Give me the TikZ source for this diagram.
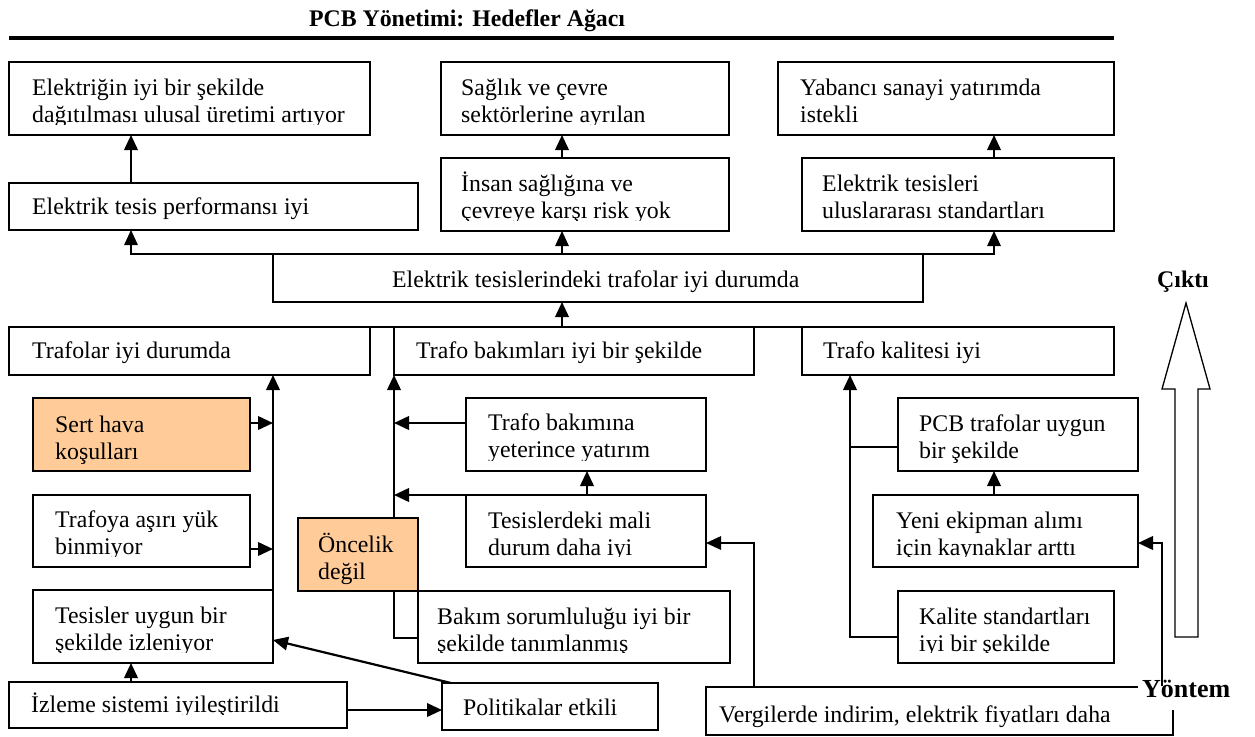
\documentclass[tikz,border=0pt]{standalone}
\usepackage{fontspec}
\setmainfont{Liberation Serif}
\usetikzlibrary{arrows.meta,calc}
\definecolor{peach}{HTML}{FFCC99}
\tikzset{
  box/.style={draw, line width=1.6pt, fill=white, inner sep=0pt, outer sep=0pt, anchor=north west},
  hl/.style={fill=peach},
  conn/.style={line width=2.2pt},
  thinc/.style={line width=1.5pt},
  tip/.style={-{Triangle[length=15pt,width=13.5pt]}},
  lab/.style={font=\fontsize{23.8}{27}\bfseries\selectfont},
}
\newcommand\twol[2]{\vtop{\baselineskip=27pt\hbox{#1}\hbox{#2}}}
% \mkbox[opts]{name}{x1}{y1}{x2}{y2}{dx,dy}{clip margin}{text}
\newcommand\mkbox[9][]{%
  \node[box,#1,minimum width={(#5-#3)*1pt},minimum height={(#6-#4)*1pt}] (#2) at (#3,#4) {};
  \begin{scope}
    \clip (#2.north west) rectangle ([yshift=#8pt]#2.south east);
    \node[anchor=base west, inner sep=0pt] (#2-t) at ([shift={(#7)}]#2.north west) {#9};
  \end{scope}
}
\begin{document}
\begin{tikzpicture}[x=1pt,y=-1pt,font=\fontsize{23.8}{27}\selectfont]
\useasboundingbox (0,0) rectangle (1255,736);
\node[lab, anchor=base] (title) at (467,26) {PCB Yönetimi: Hedefler Ağacı};
\coordinate (rl) at (9,38);
\coordinate (rr) at (1114,38);
\draw[line width=4pt] (rl) -- (rr);

% boxes
\mkbox{A}{9}{62}{370}{135}{23,33}{11}{\twol{Elektriğin iyi bir şekilde}{dağıtılması ulusal üretimi artıyor}}
\mkbox{B}{441}{62}{729}{135}{20,33}{11}{\twol{Sağlık ve çevre}{sektörlerine ayrılan}}
\mkbox{C}{778}{62}{1114}{135}{22,33}{11}{\twol{Yabancı sanayi yatırımda}{istekli}}
\mkbox{D}{9}{183}{418}{230}{23,31}{4}{Elektrik tesis performansı iyi}
\mkbox{E}{441}{158}{729}{231}{20,33}{11}{\twol{İnsan sağlığına ve}{çevreye karşı risk yok}}
\mkbox{F}{802}{158}{1114}{231}{20,33}{11}{\twol{Elektrik tesisleri}{uluslararası standartları}}
\mkbox{G}{273}{254}{923}{302}{119,33}{4}{Elektrik tesislerindeki trafolar iyi durumda}
\mkbox{H}{9}{327}{370}{375}{23,31}{4}{Trafolar iyi durumda}
\mkbox{I}{394}{327}{754}{375}{22,31}{4}{Trafo bakımları iyi bir şekilde}
\mkbox{J}{802}{327}{1114}{375}{21,31}{4}{Trafo kalitesi iyi}
\mkbox[hl]{Sert}{33}{398}{250}{471}{22,34}{5}{\twol{Sert hava}{koşulları}}
\mkbox{Trf}{33}{495}{250}{567}{22,32}{11}{\twol{Trafoya aşırı yük}{binmiyor}}
\mkbox{Tes}{33}{590}{273}{663}{22,33}{11}{\twol{Tesisler uygun bir}{şekilde izleniyor}}
\mkbox{Izl}{9}{682}{347}{728}{22,30}{14}{İzleme sistemi iyileştirildi}
\mkbox{Pol}{442}{683}{658}{730}{21,32}{4}{Politikalar etkili}
\mkbox{Yat}{466}{398}{706}{471}{22,32}{11}{\twol{Trafo bakımına}{yeterince yatırım}}
\mkbox{Tsd}{466}{495}{706}{567}{22,33}{11}{\twol{Tesislerdeki mali}{durum daha iyi}}
\mkbox{Bak}{418}{591}{730}{663}{19,33}{11}{\twol{Bakım sorumluluğu iyi bir}{şekilde tanımlanmış}}
\mkbox{PCB}{898}{398}{1138}{471}{21,33}{5}{\twol{PCB trafolar uygun}{bir şekilde}}
\mkbox{Yeni}{873}{495}{1138}{567}{23,33}{11}{\twol{Yeni ekipman alımı}{için kaynaklar arttı}}
\mkbox{Kal}{898}{591}{1114}{663}{21,33}{11}{\twol{Kalite standartları}{iyi bir şekilde}}
\mkbox{Ver}{706}{687}{1173}{735}{13,35}{4}{Vergilerde indirim, elektrik fiyatları daha}

% helper coordinates
\coordinate (x131) at (131,0);
\coordinate (x562) at (562,0);
\coordinate (x994) at (994,0);
\coordinate (x490) at (490,0);
\coordinate (x587) at (587,0);
\coordinate (x754) at (754,0);
\coordinate (x850) at (850,0);
\coordinate (y423) at (0,423);
\coordinate (y548) at (0,549);
\coordinate (y638) at (0,638);
\coordinate (y543) at (0,543);
\coordinate (y447) at (0,447);
\coordinate (y637) at (0,637);
\coordinate (y710) at (0,710);

% upper tree
\draw[conn,tip] (D.north -| x131) -- (A.south -| x131);
\draw[conn,tip] (E.north -| x562) -- (B.south -| x562);
\draw[conn,tip] (F.north -| x994) -- (C.south -| x994);
\draw[thinc,tip] (G.north west) -| (D.south -| x131);
\draw[thinc,tip] (G.north east) -| (F.south -| x994);
\draw[thinc,tip] (G.north -| x562) -- (E.south -| x562);
\draw[thinc] (H.north east) -- (I.north west);
\draw[thinc] (I.north east) -- (J.north west);
\draw[conn,tip] (I.north -| x562) -- (G.south -| x562);

% Trafolar iyi durumda
\draw[conn,tip] (Tes.north east) -- (H.south -| Tes.north east);
\draw[conn,tip] (Sert.east |- y423) -- (y423 -| Tes.east);
\draw[conn,tip] (Trf.east |- y548) -- (y548 -| Tes.east);

% Trafo bakimlari
\draw[conn,tip] (Bak.west |- y638) -| (I.south west);
\draw[conn,tip] (Yat.west |- y423) -- (y423 -| I.south west);
\draw[conn,tip] (Tsd.north -| x490) -- (Tsd.north -| I.south west);
\draw[conn,tip] (Tsd.north -| x587) -- (Yat.south -| x587);
\draw[thinc,tip] (Ver.north -| x754) |- (Tsd.east |- y543);

% Trafo kalitesi
\draw[conn,tip] (Kal.west |- y637) -| (J.south -| x850);
\draw[thinc] (PCB.west |- y447) -- (y447 -| x850);
\draw[conn,tip] (Yeni.north -| x994) -- (PCB.south -| x994);

% bottom
\draw[conn,tip] (Izl.north -| x131) -- (Tes.south -| x131);
\draw[conn,tip] (Izl.east |- y710) -- (y710 -| Pol.west);
\draw[conn,tip] ([xshift=9pt]Pol.north west) -- ([yshift=-13.5pt]Tes.east);

% Oncelik (on top of the line)
\mkbox[hl]{Onc}{298}{518}{418}{591}{20,34}{2}{\twol{Öncelik}{değil}}

% labels
\node[lab, anchor=base] (cikti) at (1183,287) {Çıktı};
\node[font=\fontsize{26}{27}\bfseries\selectfont, fill=white, inner xsep=4pt, inner ysep=0pt,
      text height=17pt, text depth=13pt, anchor=base west] (yon) at (1138,697) {Yöntem};
\coordinate (ys) at (1162,686);
\draw[conn,tip] (ys) |- (Yeni.east |- y543);

% big hollow arrow
\draw[line width=1.3pt] (1175,637) -- (1175,389) -- (1162,389) -- (1186,303)
  -- (1210,389) -- (1198,389) -- (1198,637) -- cycle;
\end{tikzpicture}
\end{document}
